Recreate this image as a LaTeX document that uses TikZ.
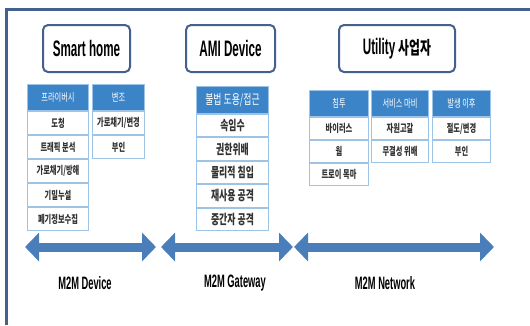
\documentclass[tikz,border=0pt]{standalone}
\usepackage{fontspec}
\setmainfont{Liberation Sans}[FakeStretch=0.52]
\newfontfamily\kr{Noto Sans CJK KR}[FakeStretch=0.66]
\usetikzlibrary{positioning, arrows.meta}
\definecolor{colorframe}{HTML}{44618E}
\definecolor{colorhead}{HTML}{3C84C8}
\definecolor{colorline}{HTML}{9DC3E6}
\definecolor{colorarrow}{HTML}{4A7EBB}
\tikzstyle{group}=[draw=colorframe, line width=2bp, rounded corners=5bp, fill=white, minimum height=47bp, font=\fontsize{22.5}{22.5}\selectfont\bfseries]
\tikzstyle{thead}=[draw=colorline, fill=colorhead, text=white, line width=1bp, minimum height=26bp, inner sep=0pt, font=\kr\fontsize{11}{11}\selectfont]
\tikzstyle{tcell}=[draw=colorline, fill=white, text=black!80, line width=1bp, minimum height=23bp, inner sep=0pt, font=\kr\fontsize{11}{11}\selectfont\bfseries]
\tikzstyle{zone}=[line width=9bp, draw=colorarrow, {Triangle[width=28bp,length=14bp]}-{Triangle[width=28bp,length=14bp]}]
\tikzstyle{layer}=[font=\fontsize{18}{18}\selectfont\bfseries]

\begin{document}
\begin{tikzpicture}[x=1bp, y=1bp]
\useasboundingbox (0,0) rectangle (530,-325);
\draw[colorframe, line width=2.5bp] (6.5,-325) -- (6.5,-9.5) -- (530,-9.5);

\node[group, minimum width=87bp](smarthome) at (86.5,-48.5){Smart home};
\node[group, minimum width=89bp](amidev) at (230.5,-48.5){AMI Device};
\node[group, minimum width=116bp](utility) at (397,-48.5){Utility {\kr\fontsize{18}{18}\selectfont 사업자}};

% smart home
\begin{scope}[nodes={minimum width=61bp}]
\node[thead, anchor=north west](priv) at (27,-84){프라이버시};
\node[tcell, below=0pt of priv](priv1){도청};
\node[tcell, below=0pt of priv1](priv2){트래픽 분석};
\node[tcell, below=0pt of priv2](priv3){가로채기/방해};
\node[tcell, below=0pt of priv3](priv4){기밀누설};
\node[tcell, below=0pt of priv4](priv5){폐기정보수집};
\end{scope}
\begin{scope}[nodes={minimum width=52bp}]
\node[thead, anchor=north west](forge) at (92,-84){변조};
\node[tcell, below=0pt of forge](forge1){가로채기/변경};
\node[tcell, below=0pt of forge1](forge2){부인};
\end{scope}

% AMI device
\begin{scope}[nodes={minimum width=72bp},
  thead/.append style={minimum height=27bp, font=\kr\fontsize{13.5}{13.5}\selectfont},
  tcell/.append style={minimum height=22.4bp, font=\kr\fontsize{13.5}{13.5}\selectfont\bfseries}]
\node[thead, anchor=north west](misuse) at (196,-86){불법 도용/접근};
\node[tcell, below=0pt of misuse](misuse1){속임수};
\node[tcell, below=0pt of misuse1](misuse2){권한위배};
\node[tcell, below=0pt of misuse2](misuse3){물리적 침입};
\node[tcell, below=0pt of misuse3](misuse4){재사용 공격};
\node[tcell, below=0pt of misuse4](misuse5){중간자 공격};
\end{scope}

% utility
\begin{scope}[tcell/.append style={minimum height=22bp}]
\node[thead, minimum width=59bp, anchor=north west](intr) at (309,-90){침투};
\node[tcell, minimum width=59bp, below=0pt of intr](intr1){바이러스};
\node[tcell, minimum width=59bp, below=0pt of intr1](intr2){웜};
\node[tcell, minimum width=59bp, below=0pt of intr2](intr3){트로이 목마};
\node[thead, minimum width=57bp, anchor=north west](dos) at (371,-90){서비스 마비};
\node[tcell, minimum width=57bp, below=0pt of dos](dos1){자원고갈};
\node[tcell, minimum width=57bp, below=0pt of dos1](dos2){무결성 위배};
\node[thead, minimum width=58bp, anchor=north west](after) at (432,-90){발생 이후};
\node[tcell, minimum width=58bp, below=0pt of after](after1){절도/변경};
\node[tcell, minimum width=58bp, below=0pt of after1](after2){부인};
\end{scope}

\coordinate (devl) at (25,-247);
\coordinate (devr) at (156,-247);
\coordinate (gwl) at (161,-247);
\coordinate (gwr) at (293,-247);
\coordinate (netl) at (294,-247);
\coordinate (netr) at (494,-247);
\draw[zone] (devl) -- (devr);
\draw[zone] (gwl) -- (gwr);
\draw[zone] (netl) -- (netr);

\node[layer](m2mdev) at (85,-283){M2M Device};
\node[layer](m2mgw) at (235,-283){M2M Gateway};
\node[layer](m2mnet) at (385,-283){M2M Network};
\end{tikzpicture}
\end{document}
